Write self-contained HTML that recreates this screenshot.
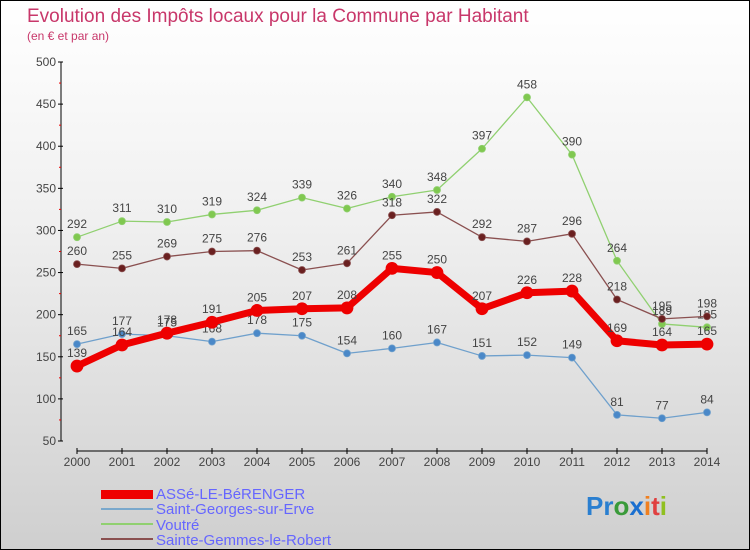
<!DOCTYPE html>
<html><head><meta charset="utf-8"><style>
body{margin:0}
#c{width:750px;height:550px;position:relative;box-sizing:border-box;border:1px solid #000;background:linear-gradient(#ffffff,#f0f0f0 40%,#cfcfcf);font-family:"Liberation Sans",sans-serif;overflow:hidden}
</style></head><body>
<div id="c">
<svg id="s" width="750" height="550" style="position:absolute;left:0;top:0">
<text x="26" y="21" font-size="19" fill="#c8376a">Evolution des Impôts locaux pour la Commune par Habitant</text>
<text x="26" y="39" font-size="12" fill="#c8376a">(en € et par an)</text>
<g id="axes"></g><g id="series"></g>
<g>
<rect x="100" y="489" width="52" height="9" fill="#e00"/>
<text x="155" y="498" font-size="15" fill="#6666ff">ASSé-LE-BéRENGER</text>
<rect x="100" y="507" width="52" height="2" fill="#7aa8cc"/>
<text x="155" y="513" font-size="15" fill="#6666ff">Saint-Georges-sur-Erve</text>
<rect x="100" y="522" width="52" height="2" fill="#90d070"/>
<text x="155" y="529" font-size="15" fill="#6666ff">Voutré</text>
<rect x="100" y="537" width="52" height="2" fill="#8a5050"/>
<text x="155" y="544" font-size="15" fill="#6666ff">Sainte-Gemmes-le-Robert</text>
</g>
<text x="585" y="514" font-size="26" font-weight="bold"><tspan fill="#2a7fd0">Pr</tspan><tspan fill="#3a9a3a">o</tspan><tspan fill="#1a6fd0">x</tspan><tspan fill="#f08020">i</tspan><tspan fill="#e04040">t</tspan><tspan fill="#90c020">i</tspan></text>
</svg>
</div>
<script>
const years=[2000,2001,2002,2003,2004,2005,2006,2007,2008,2009,2010,2011,2012,2013,2014];
const yTicks=[50,100,150,200,250,300,350,400,450,500];
const asse=[139,164,178,191,205,207,208,255,250,207,226,228,169,164,165];
const stGeorges=[165,177,175,168,178,175,154,160,167,151,152,149,81,77,84];
const voutre=[292,311,310,319,324,339,326,340,348,397,458,390,264,189,185];
const stGemmes=[260,255,269,275,276,253,261,318,322,292,287,296,218,195,198];
const NS="http://www.w3.org/2000/svg";
const xS=i=>76+i*45;
const yS=v=>440-(v-50)*379/450;
function mk(t,a,p){const e=document.createElementNS(NS,t);for(const k in a)e.setAttribute(k,a[k]);p.appendChild(e);return e;}
const ax=document.getElementById('axes');
const yl=mk('line',{x1:60,y1:yS(500),x2:60,y2:yS(50),stroke:'#000'},ax);


yTicks.forEach(v=>{
 mk('line',{x1:57,y1:yS(v),x2:62,y2:yS(v),stroke:'#000'},ax);
 if(v<500){const m=mk('line',{x1:58,y1:yS(v+25),x2:60,y2:yS(v+25),stroke:'#e00'},ax);}
 const t=mk('text',{x:55,y:yS(v)+4,'font-size':12,fill:'#444','text-anchor':'end'},ax);t.textContent=v;
 
 
});
const xl=mk('line',{x1:76,y1:450,x2:706,y2:450,stroke:'#000'},ax);


years.forEach((y,i)=>{
 mk('line',{x1:xS(i),y1:447,x2:xS(i),y2:453,stroke:'#000'},ax);
 const t=mk('text',{x:xS(i),y:465,'font-size':12,fill:'#444','text-anchor':'middle'},ax);t.textContent=y;
 
 
});
const sg=document.getElementById('series');
function draw(vals,color,dot,w,r,name){
 const g=mk('g',{},sg);
 
 
 mk('polyline',{points:vals.map((v,i)=>xS(i)+','+yS(v)).join(' '),fill:'none',stroke:color,'stroke-width':w,'stroke-linejoin':'round'},g);
 vals.forEach((v,i)=>{
  const c=mk('circle',{cx:xS(i),cy:yS(v),r:r,fill:dot,stroke:color,'stroke-width':0.8},g);
  
  
  const t=mk('text',{x:xS(i),y:yS(v)-9,'font-size':12,fill:'#444','text-anchor':'middle'},g);t.textContent=v;
  
  
 });
}
draw(voutre,'#90d070','#80c850',1.3,3.5,'voutre');
draw(stGemmes,'#8a5050','#6a2020',1.3,3.5,'sainte-gemmes');
draw(stGeorges,'#6fa0cc','#4a88c8',1.3,3.5,'saint-georges');
draw(asse,'#ee0000','#ee0000',7,6,'asse');
</script>
</body></html>
